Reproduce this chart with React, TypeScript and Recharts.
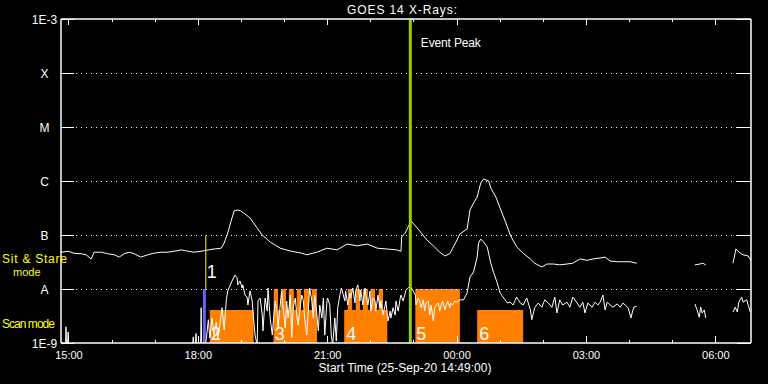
import React from 'react';
import { LineChart, Line, XAxis, YAxis, ReferenceArea, ReferenceLine } from 'recharts';

// time axis: minutes after the start time 25-Sep-20 14:49:00
const START_MIN = 14 * 60 + 49;
const hourTicks = [11, 71, 131, 191, 251, 311, 371, 431, 491, 551, 611, 671, 731, 791, 851, 911];

const fluxTicks = [1e-9, 1e-8, 1e-7, 1e-6, 1e-5, 1e-4, 1e-3];
const fluxTickLabels = ['1E-9', 'A', 'B', 'C', 'M', 'X', '1E-3'];
const gridLevels = [1e-8, 1e-7, 1e-6, 1e-5, 1e-4];

// long channel (1-8 A), W/m^2
const longTime = [
  0, 10, 18, 28, 35, 42, 46, 56, 65, 74, 81, 88, 95, 102, 111, 121, 129, 139, 149, 157,
  167, 177, 185, 195, 205, 213, 223, 227, 232, 237, 241, 246, 250, 256, 263, 270, 280, 291, 305, 319,
  335, 342, 356, 370, 384, 398, 412, 426, 440, 454, 467, 473, 474, 479, 483, 487, 492, 499, 509, 518,
  527, 534, 541, 545, 551, 555, 565, 569, 574, 579, 584, 588, 595, 598, 605, 612, 619, 625, 634, 643,
  653, 659, 669, 676, 685, 694, 704, 712, 722, 732, 740, 750, 757, 764, 774, 782, 792, 801, 810, 882,
  889, 893, 897, 905, 935, 939, 945, 949, 956, 960,
];
const longFlux = [
  4.8e-8, 5.0e-8, 4.6e-8, 4.5e-8, 4.3e-8, 3.6e-8, 4.8e-8, 4.8e-8, 4.5e-8, 4.3e-8, 3.9e-8, 4.5e-8, 4.8e-8, 4.5e-8, 3.9e-8, 4.3e-8, 4.6e-8, 4.8e-8, 4.8e-8, 5.0e-8,
  5.3e-8, 5.0e-8, 4.8e-8, 5.0e-8, 5.3e-8, 5.5e-8, 5.7e-8, 7.1e-8, 1.09e-7, 1.9e-7, 2.8e-7, 2.9e-7, 2.8e-7, 2.45e-7, 2.06e-7, 1.53e-7, 1.0e-7, 7.4e-8, 5.7e-8, 5.05e-8,
  4.6e-8, 4.3e-8, 4.8e-8, 5.7e-8, 5.3e-8, 6.8e-8, 6.3e-8, 6.8e-8, 5.7e-8, 5.5e-8, 5.3e-8, 5.0e-8, 9.2e-8, 1.09e-7, 1.41e-7, 1.82e-7, 1.53e-7, 1.19e-7, 8.1e-8, 6.3e-8,
  4.8e-8, 4.1e-8, 4.5e-8, 5.7e-8, 8.1e-8, 1.05e-7, 1.29e-7, 2.9e-7, 3.9e-7, 5.05e-7, 9.2e-7, 1.09e-6, 1.0e-6, 7.4e-7, 5.05e-7, 2.9e-7, 1.67e-7, 1.0e-7, 6.0e-8, 4.6e-8,
  3.6e-8, 3.0e-8, 2.55e-8, 2.9e-8, 2.9e-8, 2.8e-8, 2.9e-8, 3.0e-8, 3.6e-8, 3.4e-8, 3.6e-8, 3.75e-8, 3.9e-8, 3.3e-8, 3.2e-8, 3.2e-8, 3.2e-8, 3.0e-8, null, 2.8e-8,
  2.9e-8, 3.0e-8, 2.8e-8, null, 3.0e-8, 5.5e-8, 4.6e-8, 4.3e-8, 4.1e-8, 3.4e-8,
];

// short channel (0.5-4 A), W/m^2 (values under 1E-9 fall off the plot)
const shortTime = [
  0, 6, 7, 8, 10, 11, 182, 184, 185, 188, 189, 194, 195, 196, 202, 205, 207, 210, 213, 216,
  218, 221, 224, 227, 230, 232, 238, 242, 245, 246, 249, 252, 253, 256, 259, 260, 263, 266, 267, 270,
  273, 274, 277, 280, 281, 284, 287, 288, 291, 294, 295, 298, 301, 302, 305, 307, 309, 312, 314, 316,
  319, 321, 323, 326, 328, 330, 333, 335, 337, 339, 342, 344, 346, 349, 351, 353, 356, 358, 360, 363,
  365, 367, 370, 371, 374, 376, 378, 381, 383, 385, 388, 390, 392, 395, 396, 399, 402, 403, 406, 409,
  410, 413, 416, 417, 420, 423, 424, 427, 430, 431, 434, 437, 438, 441, 444, 445, 448, 451, 452, 455,
  458, 459, 462, 465, 466, 469, 472, 473, 476, 479, 480, 483, 486, 490, 493, 494, 497, 499, 501, 504,
  506, 508, 511, 513, 515, 518, 520, 522, 525, 527, 529, 531, 534, 536, 538, 541, 542, 545, 548, 551,
  555, 560, 565, 569, 574, 579, 581, 584, 588, 593, 598, 602, 607, 611, 615, 621, 625, 629, 634, 639,
  643, 648, 653, 655, 659, 664, 669, 673, 678, 683, 687, 690, 694, 698, 704, 708, 712, 718, 722, 726,
  729, 733, 739, 743, 747, 750, 754, 757, 760, 764, 768, 774, 778, 782, 789, 793, 795, 797, 801, 810,
  882, 885, 888, 890, 892, 895, 897, 905, 935, 938, 941, 943, 947, 949, 954, 959,
];
const shortFlux = [
  5e-10, 5e-10, 2.0e-9, 5e-10, 1.6e-9, 5e-10, 5e-10, 1.3e-9, 5e-10, 1.5e-9, 5e-10, 5e-10, 4.5e-9, 5e-10, 1.14e-9, 2.7e-9, 1.24e-9, 2.9e-9, 1.4e-9, 2.45e-9,
  1.14e-9, 2.15e-9, 4.5e-9, 1.74e-9, 6.3e-9, 9.2e-9, 1.41e-8, 1.82e-8, 1.6e-8, 1.19e-8, 1.41e-8, 1.04e-8, 1.19e-8, 7.7e-9, 7.1e-9, 5.05e-9, 9.2e-9, 6.0e-9, 3.9e-9, 1.4e-9,
  9e-10, 6.0e-9, 6.8e-9, 3.3e-9, 1.67e-9, 6.8e-9, 3.9e-9, 1.04e-8, 2.9e-9, 1.4e-9, 2.15e-9, 6.0e-9, 3.3e-9, 1.9e-9, 5.05e-9, 9.2e-9, 4.5e-9, 1.9e-9, 6.0e-9, 2.9e-9,
  7.7e-9, 1.24e-9, 4.5e-9, 6.8e-9, 3.3e-9, 2.15e-9, 5.05e-9, 7.7e-9, 6.3e-9, 2.9e-9, 1.4e-9, 3.9e-9, 1.04e-8, 6.0e-9, 2.9e-9, 7.7e-9, 3.3e-9, 1.67e-9, 5.05e-9, 2.9e-9,
  6.8e-9, 1.4e-9, 6.0e-9, 6.8e-9, 5.05e-9, 1.4e-9, 9e-10, 2.9e-9, 1.09e-9, 4.5e-9, 7.7e-9, 1.04e-8, 8.4e-9, 6.0e-9, 9.2e-9, 5.05e-9, 8.4e-9, 6.8e-9, 1.04e-8, 5.5e-9,
  9.2e-9, 1.19e-8, 6.0e-9, 9.6e-9, 5.05e-9, 1.04e-8, 7.7e-9, 5.05e-9, 9.2e-9, 3.9e-9, 6.8e-9, 6.0e-9, 3.9e-9, 7.7e-9, 4.5e-9, 6.0e-9, 3.3e-9, 5.05e-9, 6.0e-9, 2.55e-9,
  3.9e-9, 2.9e-9, 4.5e-9, 3.3e-9, 6.0e-9, 3.9e-9, 6.8e-9, 7.7e-9, 6.0e-9, 8.4e-9, 9.6e-9, 1.04e-8, 1.14e-8, 9.2e-9, 7.7e-9, 5.05e-9, 6.8e-9, 6.0e-9, 4.5e-9, 6.3e-9,
  3.9e-9, 5.5e-9, 6.0e-9, 3.3e-9, 5.05e-9, 2.55e-9, 4.5e-9, 5.05e-9, 5.5e-9, 3.9e-9, 5.05e-9, 6.0e-9, 4.1e-9, 5.05e-9, 6.0e-9, 4.5e-9, 5.5e-9, 5.05e-9, 6.0e-9, 5.7e-9,
  6.3e-9, 6.3e-9, 8.4e-9, 1.67e-8, 2.07e-8, 3.9e-8, 7.1e-8, 8.4e-8, 7.4e-8, 6.0e-8, 3.0e-8, 2.0e-8, 1.29e-8, 8.4e-9, 7.1e-9, 5.5e-9, 5.7e-9, 5.05e-9, 7.1e-9, 5.5e-9,
  5.05e-9, 6.8e-9, 4.1e-9, 2.7e-9, 4.5e-9, 5.5e-9, 4.6e-9, 6.3e-9, 5.5e-9, 4.6e-9, 7.1e-9, 3.6e-9, 6.3e-9, 5.05e-9, 5.7e-9, 4.6e-9, 7.1e-9, 5.5e-9, 4.6e-9, 5.7e-9,
  3.6e-9, 5.5e-9, 4.6e-9, 5.7e-9, 5.05e-9, 5.7e-9, 7.7e-9, 4.1e-9, 5.7e-9, 5.05e-9, 4.6e-9, 5.3e-9, 4.6e-9, 5.5e-9, 4.5e-9, 2.9e-9, 3.75e-9, 4.6e-9, 4.8e-9, null,
  5.3e-9, 4.1e-9, 3.0e-9, 4.6e-9, 3.6e-9, 4.1e-9, 2.9e-9, null, 3.75e-9, 4.6e-9, 3.75e-9, 5.7e-9, 7.1e-9, 5.7e-9, 6.3e-9, 3.75e-9,
];

// sit & stare raster 1, and scan-mode rasters 2-6
const stareStart = 197.5;
const stareEnd = 201.5;
const stareTop = 1e-8;
const stareMarkTop = 1e-7;
const rasterNo = ['2', '3', '4', '5', '6'];
const rasterStart = [207, 296, 394, 493, 579];
const rasterEnd = [268, 356, 454, 555, 643];
const rasterTop = [4.1e-9, 4.1e-9, 4.1e-9, 1e-8, 4.1e-9];
const rasterShift = [1, 1, 2, 1, 2];
const stepStart = [296, 306, 317, 328, 338, 349, 399, 410, 420, 431, 442];
const stepEnd = [302, 313, 324, 334, 345, 356, 405, 416, 427, 437, 448];
const stepTop = 1e-8;

const eventPeak = 486;

const WHITE = '#ffffff';
const ORANGE = '#ff8000';
const YELLOW = '#ffff00';
const FONT = '"Liberation Sans", Arial, sans-serif';

const longData = longTime.map((t, i) => ({ t, v: longFlux[i] }));
const shortData = shortTime.map((t, i) => ({ t, v: shortFlux[i] }));

const pad = (n: number) => String(n).padStart(2, '0');
const clock = (m: number) => {
  const t = (START_MIN + m) % 1440;
  return `${pad(Math.floor(t / 60))}:${pad(t % 60)}`;
};
const isMajor = (m: number) => (m - 11) % 180 === 0;

function BottomTick({ x, y, payload }: any) {
  const major = isMajor(payload.value);
  return (
    <g>
      <line x1={x} x2={x} y1={y} y2={y - (major ? 7 : 3)} stroke={WHITE} shapeRendering="crispEdges" />
      {major && (
        <text x={x} y={y + 16} textAnchor="middle" fill={WHITE} fontSize={11} fontFamily={FONT}>
          {clock(payload.value)}
        </text>
      )}
    </g>
  );
}

function TopTick({ x, y, payload }: any) {
  return <line x1={x} x2={x} y1={y} y2={y + (isMajor(payload.value) ? 6 : 3)} stroke={WHITE} shapeRendering="crispEdges" />;
}

function LeftTick({ x, y, payload }: any) {
  const idx = Math.round(Math.log10(payload.value)) + 9;
  return (
    <g>
      <line x1={x} x2={x + 13} y1={y} y2={y} stroke={WHITE} shapeRendering="crispEdges" />
      <text x={x - 16.5} y={y + 4.5} textAnchor="middle" fill={WHITE} fontSize={12} fontFamily={FONT}>
        {fluxTickLabels[idx]}
      </text>
    </g>
  );
}

function RightTick({ x, y }: any) {
  return <line x1={x} x2={x - 14} y1={y} y2={y} stroke={WHITE} shapeRendering="crispEdges" />;
}

function RasterLabel({ viewBox, text, shift, above }: any) {
  if (!viewBox) return null;
  const { x, y, width, height } = viewBox;
  return above ? (
    <text x={x + width + 1} y={y - 11} fill={WHITE} fontSize={18} fontFamily={FONT}>{text}</text>
  ) : (
    <text x={x + shift} y={y + height - 3} fill={WHITE} fontSize={18} fontFamily={FONT}>{text}</text>
  );
}

function PeakLabel({ viewBox }: any) {
  if (!viewBox) return null;
  return (
    <text x={viewBox.x + 10.5} y={viewBox.y + 28} fill={WHITE} fontSize={12} fontFamily={FONT} textLength={60}>
      Event Peak
    </text>
  );
}

export default function App() {
  const axisLine = { stroke: WHITE, strokeWidth: 1.5 };
  return (
    <div style={{ position: 'absolute', left: 0, top: 0, width: 768, height: 384, background: '#000' }}>
      <LineChart width={768} height={384} margin={{ top: 18, right: 16, bottom: 40, left: 60 }}>
        <XAxis dataKey="t" type="number" domain={[0, 960]} ticks={hourTicks} interval={0} height={1}
          tickSize={0} tickMargin={0} tickLine={false} tick={<BottomTick />} axisLine={axisLine} allowDataOverflow />
        <XAxis xAxisId="top" orientation="top" dataKey="t" type="number" domain={[0, 960]} ticks={hourTicks}
          interval={0} height={1} tickSize={0} tickMargin={0} tickLine={false} tick={<TopTick />} axisLine={axisLine} allowDataOverflow />
        <YAxis type="number" scale="log" domain={[1e-9, 1e-3]} ticks={fluxTicks} interval={0} width={1}
          tickSize={0} tickMargin={0} tickLine={false} tick={<LeftTick />} axisLine={axisLine} allowDataOverflow />
        <YAxis yAxisId="right" orientation="right" type="number" scale="log" domain={[1e-9, 1e-3]} ticks={fluxTicks}
          interval={0} width={1} tickSize={0} tickMargin={0} tickLine={false} tick={<RightTick />} axisLine={axisLine} allowDataOverflow />

        {gridLevels.map((g) => (
          <ReferenceLine key={g} y={g} stroke={WHITE} strokeDasharray="1 4" shapeRendering="crispEdges" />
        ))}

        {rasterStart.map((s, i) => (
          <ReferenceArea key={`r${i}`} x1={s} x2={rasterEnd[i]} y1={1e-9} y2={rasterTop[i]} fill={ORANGE}
            fillOpacity={1} stroke="none" />
        ))}
        {stepStart.map((s, i) => (
          <ReferenceArea key={`s${i}`} x1={s} x2={stepEnd[i]} y1={1e-9} y2={stepTop} fill={ORANGE} fillOpacity={1} stroke="none" />
        ))}
        <ReferenceArea x1={stareStart} x2={stareEnd} y1={1e-9} y2={stareTop} fill="#6464ff" fillOpacity={1} stroke="none" />
        <ReferenceLine segment={[{ x: stareEnd, y: stareTop }, { x: stareEnd, y: stareMarkTop }]} stroke={YELLOW} />

        <Line data={longData} dataKey="v" type="linear" stroke={WHITE} strokeWidth={1} dot={false}
          connectNulls={false} isAnimationActive={false} />
        <Line data={shortData} dataKey="v" type="linear" stroke={WHITE} strokeWidth={1} dot={false}
          connectNulls={false} isAnimationActive={false} />

        {/* raster numbers on top of the curves */}
        {rasterStart.map((s, i) => (
          <ReferenceArea key={`n${i}`} x1={s} x2={rasterEnd[i]} y1={1e-9} y2={rasterTop[i]} fillOpacity={0}
            stroke="none" label={<RasterLabel text={rasterNo[i]} shift={rasterShift[i]} />} />
        ))}
        <ReferenceArea x1={stareStart} x2={stareEnd} y1={1e-9} y2={stareTop} fillOpacity={0} stroke="none"
          label={<RasterLabel text="1" above />} />

        <ReferenceLine x={eventPeak} stroke="#99cc00" strokeWidth={3} label={<PeakLabel />} />
      </LineChart>

      <svg width={768} height={384} style={{ position: 'absolute', left: 0, top: 0, pointerEvents: 'none' }}>
        <text x={402} y={14} textAnchor="middle" fill={WHITE} fontSize={12} fontFamily={FONT} textLength={110}>
          GOES 14 X-Rays:
        </text>
        <text x={405} y={372} textAnchor="middle" fill={WHITE} fontSize={12} fontFamily={FONT} textLength={173}>
          Start Time (25-Sep-20 14:49:00)
        </text>
        <text x={2} y={263} fill={YELLOW} fontSize={12} fontFamily={FONT} textLength={65}>Sit &amp; Stare</text>
        <text x={13} y={276} fill={YELLOW} fontSize={11} fontFamily={FONT}>mode</text>
        <text x={2} y={328} fill={YELLOW} fontSize={12} fontFamily={FONT} textLength={53}>Scan mode</text>
      </svg>
    </div>
  );
}
